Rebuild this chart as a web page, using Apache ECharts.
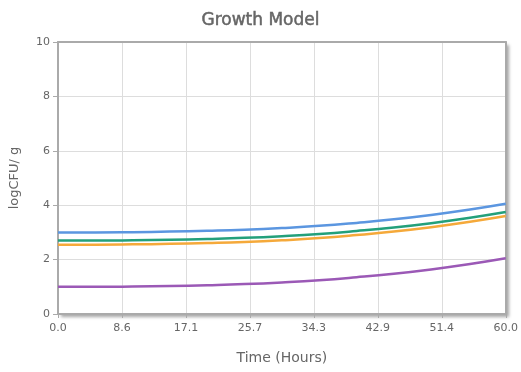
<!DOCTYPE html>
<html><head><meta charset="utf-8">
<script src="https://cdn.jsdelivr.net/npm/echarts@6/dist/echarts.min.js"></script>
<style>html,body{margin:0;padding:0;background:#fff}#c{width:521px;height:372px}</style>
</head><body><div id="c"></div>
<script>
const hours = [0,5,10,15,20,25,30,35,40,45,50,55,60];
const seriesBlue   = [3.00,3.00,3.01,3.03,3.06,3.10,3.16,3.24,3.35,3.48,3.64,3.83,4.05];
const seriesGreen  = [2.70,2.70,2.71,2.73,2.76,2.80,2.86,2.94,3.05,3.18,3.34,3.53,3.75];
const seriesOrange = [2.55,2.55,2.56,2.58,2.61,2.65,2.71,2.79,2.90,3.03,3.19,3.38,3.60];
const seriesPurple = [1.00,1.00,1.01,1.03,1.06,1.10,1.16,1.24,1.35,1.48,1.64,1.83,2.05];
const colors = ['#5b96e0','#23a07b','#f5a93a','#9b59b6'];
const font = 'DejaVu Sans';
function pts(v){return hours.map((h,i)=>[h,v[i]]);}
const mk = (v,c)=>({type:'line',data:pts(v),smooth:true,symbol:'none',lineStyle:{color:c,width:2.5},itemStyle:{color:c}});
const border = {show:true,onZero:false,lineStyle:{color:'#aaa',width:2}};
const chart = echarts.init(document.getElementById('c'));
chart.setOption({
  animation:false,
  title:{text:'Growth Model',left:'center',top:7,textStyle:{fontFamily:font,fontSize:17,fontWeight:'normal',color:'#666',textBorderColor:'#666',textBorderWidth:0.5}},
  grid:{left:58,right:12,top:42,bottom:58,show:true,backgroundColor:'#fff',borderWidth:0,
    shadowBlur:3,shadowColor:'rgba(0,0,0,0.35)',shadowOffsetX:3,shadowOffsetY:3},
  xAxis:[{type:'value',min:0,max:60,interval:60/7,
    name:'Time (Hours)',nameLocation:'middle',nameGap:37,nameTextStyle:{fontFamily:font,fontSize:14,color:'#666'},
    axisLine:border,axisTick:{show:true,length:4,lineStyle:{color:'#aaa'}},
    axisLabel:{fontFamily:font,fontSize:11,color:'#666',margin:9,formatter:v=>v.toFixed(1)},
    splitLine:{lineStyle:{color:'#ddd'}}},
    {type:'value',position:'top',min:0,max:60,axisLine:border,axisTick:{show:false},axisLabel:{show:false},splitLine:{show:false}}],
  yAxis:[{type:'value',min:0,max:10,interval:2,
    name:'logCFU/ g',nameLocation:'middle',nameGap:37,nameTextStyle:{fontFamily:font,fontSize:13,color:'#666'},
    axisLine:border,axisTick:{show:true,length:5,lineStyle:{color:'#aaa'}},
    axisLabel:{fontFamily:font,fontSize:11,color:'#666'},
    splitLine:{lineStyle:{color:'#ddd'}}},
    {type:'value',position:'right',min:0,max:10,axisLine:border,axisTick:{show:false},axisLabel:{show:false},splitLine:{show:false}}],
  series:[mk(seriesBlue,colors[0]),mk(seriesGreen,colors[1]),mk(seriesOrange,colors[2]),mk(seriesPurple,colors[3])]
});
</script></body></html>
